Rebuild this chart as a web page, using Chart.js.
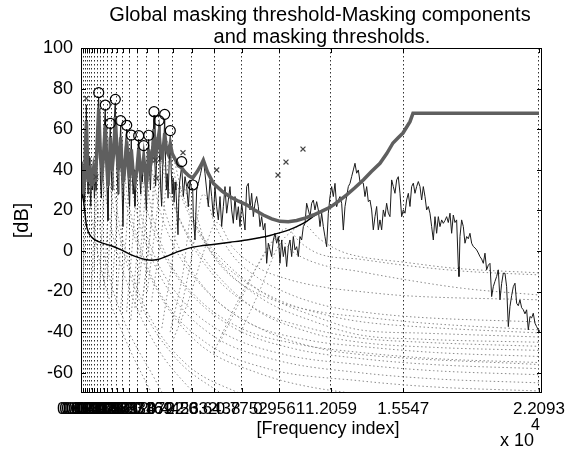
<!DOCTYPE html>
<html lang="en">
<head>
<meta charset="UTF-8">
<title>Global masking threshold</title>
<script src="https://cdn.jsdelivr.net/npm/chart.js@4.4.1/dist/chart.umd.min.js"></script>
<style>
  html, body { margin: 0; padding: 0; background: #fff; }
  #chart { display: block; }
</style>
</head>
<body>
<canvas id="chart" width="574" height="450"></canvas>
<script>
// critical band edges (frequency index), used as x ticks and grid
const bandEdges = [0, 101, 201, 302, 402, 513, 634, 775, 926, 1086, 1278, 1489, 1730, 2012, 2334,
  2716, 3169, 3722, 4426, 5332, 6438, 7752, 9561, 12059, 15547, 22093];
const yTicks = [-60, -40, -20, 0, 20, 40, 60, 80, 100];

const titleLines = ['Global masking threshold-Masking components', 'and masking thresholds.'];
const xLabel = '[Frequency index]';
const yLabel = '[dB]';

// power spectrum
const specFreq = [0, 43, 86, 129, 172, 215, 258, 301, 344, 387, 430, 473, 516, 560, 603, 646, 689, 732, 775, 818,
  854, 897, 940, 983, 1026, 1080, 1130, 1172, 1215, 1258, 1302, 1345, 1388, 1413, 1456, 1500, 1543, 1590, 1630, 1655,
  1700, 1740, 1785, 1830, 1870, 1915, 1960, 2026, 2070, 2120, 2170, 2205, 2250, 2300, 2345, 2390, 2427, 2470, 2520, 2560,
  2600, 2650, 2700, 2745, 2783, 2830, 2880, 2920, 2960, 3000, 3025, 3070, 3110, 3151, 3190, 3230, 3266, 3310, 3350, 3390,
  3430, 3475, 3522, 3565, 3600, 3640, 3680, 3720, 3763, 3805, 3850, 3890, 3930, 3980, 4038, 4080, 4120, 4160, 4200, 4250,
  4308, 4350, 4400, 4445, 4490, 4535, 4580, 4625, 4679, 4720, 4760, 4857, 4937, 5017, 5098, 5178, 5258, 5339, 5388, 5419,
  5500, 5580, 5660, 5773, 5902, 5982, 6062, 6143, 6223, 6304, 6384, 6464, 6545, 6625, 6706, 6786, 6866, 6947, 7027, 7108,
  7188, 7268, 7349, 7429, 7510, 7590, 7670, 7751, 7831, 7912, 7992, 8072, 8153, 8233, 8314, 8394, 8474, 8555, 8635, 8716,
  8796, 8876, 8957, 9037, 9118, 9198, 9278, 9359, 9439, 9520, 9600, 9680, 9761, 9841, 9922, 10002, 10082, 10163, 10243, 10324,
  10404, 10484, 10565, 10645, 10726, 10806, 10886, 10967, 11047, 11128, 11208, 11288, 11369, 11449, 11530, 11610, 11690, 11770, 11851, 11932,
  12012, 12092, 12173, 12253, 12334, 12414, 12494, 12575, 12655, 12736, 12816, 12896, 12977, 13057, 13138, 13218, 13298, 13379, 13459, 13620,
  13700, 13781, 13861, 13941, 14022, 14102, 14183, 14263, 14343, 14424, 14504, 14585, 14665, 14745, 14826, 14906, 14987, 15067, 15147, 15228,
  15308, 15389, 15469, 15549, 15630, 15710, 15791, 15871, 15951, 16032, 16112, 16193, 16273, 16353, 16434, 16514, 16595, 16675, 16755, 16836,
  16916, 16997, 17077, 17157, 17238, 17318, 17399, 17479, 17560, 17640, 17720, 17801, 17881, 17961, 18042, 18122, 18203, 18235, 18283, 18363,
  18444, 18524, 18605, 18685, 18765, 18846, 18926, 19006, 19087, 19167, 19248, 19328, 19409, 19489, 19569, 19650, 19730, 19811, 19891, 19971,
  20052, 20132, 20213, 20293, 20373, 20454, 20534, 20615, 20695, 20776, 20856, 20936, 21017, 21097, 21177, 21258, 21338, 21418, 21499, 21579,
  21660, 21740, 21820, 21901, 21981, 22062, 22093];
const specLevel = [32, 44, 26, 38, 24, 45, 72, 38, 28, 46, 34, 22, 40, 30, 42, 26, 36, 30, 56, 70,
  76, 52, 34, 26, 44, 50, 62, 70, 48, 30, 15, 40, 55, 61, 40, 30, 46, 58, 70, 73,
  54, 40, 28, 44, 52, 62, 40, 12, 36, 48, 56, 60, 42, 30, 22, 44, 55, 38, 28, 40,
  22, 34, 42, 50, 55, 38, 28, 40, 34, 44, 50, 36, 30, 20, 34, 46, 55, 40, 30, 42,
  48, 56, 67, 44, 32, 42, 50, 56, 62, 44, 30, 22, 38, 50, 65, 44, 30, 38, 26, 42,
  57, 40, 28, 36, 24, 34, 30, 20, 8, 26, 34, 42, 26.8, 36.6, 31.7, 21.8, 35, 30, 31, 17,
  5.4, 30, 33.3, 38.3, 44.8, 38.3, 30, 21.8, 35, 26.8, 16.9, 31.7, 21.8, 15.3, 26.8, 12, 21.8, 31.7, 18.6, 25.1,
  31.7, 20.2, 13.6, 26.8, 15.3, 21.8, 12, 23.5, 16.9, 10.3, 31.7, 33.3, 20.2, 28.4, 16.9, 23.5, 26.8, 21.8, 12, 16.9,
  10.3, 13.6, -6.1, 3.8, 0.5, -2.8, 5.4, 8.7, 3.8, 7.1, -6.1, 5.4, -2.8, 2.1, -7.7, 2.1, 5.4, -2.8, 7.1, 0.5,
  2.1, -2.8, 7.1, 5.4, 12, 13.6, 23.5, 20.2, 16.9, 23.5, 25.1, 20.2, 24.3, 20.2, 12, 18.6, 12, 7, 2.1, 18.6,
  26.8, 31.7, 26.8, 33.3, 21.8, 25.1, 26.8, 23.5, 10.3, 21.8, 26.8, 31.7, 33.3, 36.6, 39.9, 43.2, 38.3, 39.9, 34.2, 33.4,
  26.8, 31.7, 24.3, 25.1, 20.2, 10.4, 16.9, 21.9, 10.4, 15.3, 10.4, 20.2, 16.9, 23.5, 18.6, 16.9, 35, 31.7, 28.4, 35,
  36.6, 28.4, 16.9, 20.2, 18.6, 25.1, 28.4, 21.9, 31.7, 33.4, 28.4, 31.7, 34.2, 31.7, 25.1, 31.7, 26.8, 20.2, 21.9, 18.6,
  12, 5.4, 16.9, 8.7, 16.9, 12, 15.3, 13.6, 15, 16.9, 14, 18.6, 8.7, 17.7, 14, 15.3, -7.7, -12.6, 7.1, 15.3,
  12, 3.8, 7.1, 6, 8.7, 3.8, 2.2, 1.5, 0.5, -1, -2.8, -4, -6.1, -1.1, -9.3, -7, -6.1, -22.5, -17.6, -15,
  -12.6, -9.3, -24.1, -16, -11, -11, -17.6, -37.3, -27.4, -22, -17.6, -15.9, -25.8, -27, -24.1, -28, -29, -31, -29, -38.9,
  -32.3, -33, -30.7, -35.6, -37.3, -38.9, -40];

// global masking threshold
const threshFreq = [0, 43, 86, 172, 258, 344, 430, 516, 603, 689, 775, 854, 940, 1026, 1080, 1172, 1258, 1302, 1388, 1413,
  1500, 1590, 1655, 1740, 1800, 1870, 1915, 1990, 2050, 2120, 2205, 2300, 2345, 2427, 2520, 2600, 2700, 2783, 2880, 2960,
  3025, 3110, 3151, 3230, 3266, 3350, 3430, 3522, 3600, 3680, 3763, 3850, 3930, 4038, 4120, 4200, 4308, 4400, 4500, 4600,
  4700, 4857, 5000, 5200, 5388, 5600, 5773, 5902, 6100, 6382, 6800, 7188, 7600, 7993, 8400, 8794, 9200, 9600, 10000, 10405,
  10800, 11206, 11600, 12012, 12400, 12817, 13200, 13618, 14000, 14424, 14750, 15051, 15300, 15533, 15871, 16016, 22093];
const threshLevel = [30, 42, 28, 36, 64, 34, 42, 32, 40, 34, 52, 70, 46, 40, 46, 62, 40, 32, 46, 56,
  40, 50, 66, 48, 40, 46, 56, 40, 34, 42, 54, 40, 36, 50, 38, 34, 40, 50, 38, 40,
  46, 38, 34, 42, 50, 42, 46, 60, 48, 52, 58, 48, 46, 58, 50, 48, 53, 48, 46, 44,
  42, 41, 39, 37, 36, 39, 42, 44.8, 39, 33.3, 29.5, 26.7, 24.5, 22.7, 20, 17.7, 15.8, 14.6, 14.4, 15,
  16.2, 17.7, 19.5, 21.5, 24.3, 27.6, 31, 35, 39, 43.2, 48, 53.2, 55.8, 58.1, 63.7, 67.8, 67.8];

// absolute threshold of hearing
const athFreq = [43, 86, 130, 178, 256, 350, 497, 700, 1000, 1400, 1944, 2400, 2750, 3100, 3391, 3700, 4038, 4400, 4679,
  5162, 5700, 6368, 7200, 7993, 8600, 9118, 9600, 10000, 10405, 10888, 11206, 11600, 12012, 12400, 12817, 13200, 13618, 14000, 14424,
  14750, 15051, 15300, 15533, 15871, 16016, 22093];
const athLevel = [30, 27, 24, 20, 13, 9.5, 7, 5.3, 4, 2.8, 0.5, -1.8, -3.2, -4.2, -4.6, -4.2, -3, -1.5, -0.3,
  1.3, 2.4, 3.2, 4.3, 5.4, 6.5, 7.6, 9, 10.3, 12, 14.6, 17, 19.5, 21.5, 24.3, 27.6, 31, 35, 39, 43.2,
  48, 53.2, 55.8, 58.1, 63.7, 67.8, 67.8];

// tonal (o) and non-tonal (x) maskers
const tonalFreq = [854, 1172, 1413, 1655, 1915, 2205, 2427, 2783, 3025, 3266, 3522, 3763, 4038, 4308, 4857, 5388];
const tonalLevel = [78, 71.9, 62.9, 74.7, 64.2, 61.9, 57.1, 56.8, 51.9, 57, 68.6, 64.2, 67.3, 59.3, 44, 32.5];
const noiseFreq = [256, 724, 3584, 3632, 4920, 6546, 9503, 9889, 10709];
const noiseLevel = [75.2, 36.5, 44.8, 35.8, 48.4, 39.9, 37.4, 43.8, 50.2];

// individual masking thresholds, one [index, dB] list per masker
const maskCurves = [
  [[7700, -40], [8600, -20], [9500, 2], [10200, 10], [10709, 13], [11500, 6], [12500, 0], [13459, -2.8], [15547, -5.5], [18000, -8.5], [22093, -10.8]],
  [[6700, -45], [7800, -22], [8900, 0], [9500, 8], [9889, 11], [10600, 4], [11500, -1.5], [13459, -4.1], [15547, -7], [18500, -10], [22093, -11.8]],
  [[6400, -50], [7500, -26], [8600, -6], [9503, 6], [10300, -1], [11500, -6.5], [13459, -10.2], [15547, -14], [18500, -18.5], [22093, -21.7]],
  [[4400, -45], [5200, -24], [6000, 2], [6546, 14], [7300, 2], [8500, -8], [10000, -14], [11800, -18], [13459, -20], [15547, -22], [22093, -24.1]],
  [[4700, -35], [5300, -5], [5902, 28], [6500, 12], [7300, -2], [8500, -13], [10000, -21], [11800, -27], [13459, -29.9], [16000, -32.5], [22093, -35]],
  [[4300, -40], [4900, -12], [5388, 20], [6000, 4], [6800, -8], [8000, -18], [9800, -26], [11800, -30.5], [13459, -32.4], [16500, -35.5], [22093, -38.9]],
  [[3900, -38], [4400, -5], [4872, 32], [5500, 14], [6300, 0], [7500, -12], [9500, -24], [11800, -31.5], [13459, -34.8], [16500, -37.5], [22093, -40.4]],
  [[3400, -25], [3900, 10], [4308, 48], [4900, 28], [5700, 10], [7000, -6], [9000, -22], [11500, -33], [13459, -38.9], [16500, -40.5], [22093, -42.4]],
  [[3200, -20], [3650, 18], [4038, 56], [4600, 34], [5400, 14], [6700, -6], [8800, -24], [11300, -35], [13459, -41.4], [16500, -43.5], [22093, -45]],
  [[3000, -22], [3400, 14], [3763, 50], [4300, 28], [5100, 8], [6400, -12], [8500, -29], [11000, -38], [13459, -42.9], [16500, -45], [22093, -47]],
  [[2800, -16], [3180, 20], [3522, 58], [4050, 36], [4800, 15], [6100, -6], [8300, -28], [11000, -40], [13459, -45], [17000, -47.5], [22093, -49]],
  [[2600, -28], [2950, 8], [3266, 44], [3750, 22], [4500, 2], [5800, -17], [8000, -35], [11000, -44], [13459, -47], [17000, -50], [22093, -52]],
  [[2400, -34], [2730, 2], [3025, 38], [3480, 16], [4200, -4], [5500, -22], [7700, -38], [10500, -46], [13459, -50], [17000, -53], [22093, -55]],
  [[2200, -30], [2500, 6], [2783, 43], [3200, 20], [3900, 0], [5200, -20], [7400, -38], [10200, -48], [13459, -53], [17000, -56], [22093, -58]],
  [[1900, -30], [2170, 6], [2427, 44], [2800, 22], [3450, 0], [4700, -22], [6800, -40], [9800, -51], [13459, -56], [17000, -59], [22093, -61]],
  [[1720, -25], [1960, 10], [2205, 48], [2560, 25], [3200, 2], [4400, -22], [6400, -42], [9500, -54], [13459, -60], [17000, -63], [22093, -65]],
  [[1480, -22], [1700, 12], [1915, 50], [2250, 26], [2850, 2], [4000, -24], [6000, -45], [9000, -58], [13459, -64], [17000, -67], [22093, -69]],
  [[1270, -14], [1480, 22], [1655, 60], [1950, 36], [2500, 10], [3600, -18], [5500, -44], [8500, -60], [13000, -70], [22093, -74]],
  [[1080, -25], [1260, 10], [1413, 48], [1680, 24], [2200, -2], [3200, -30], [5000, -55], [8000, -72]],
  [[900, -18], [1040, 18], [1172, 56], [1410, 32], [1900, 6], [2800, -24], [4500, -52], [7000, -72]],
  [[630, -10], [740, 26], [854, 62], [1050, 38], [1450, 12], [2300, -18], [3700, -48], [5600, -72]],
  [[100, -20], [180, 15], [256, 45], [380, 28], [650, 8], [1200, -18], [2200, -45], [3500, -72]],
  [[500, -20], [610, 5], [724, 32], [900, 12], [1300, -10], [2100, -35], [3500, -62], [4200, -75]],
  [[2900, -30], [3300, 5], [3584, 38], [4100, 18], [4900, -2], [6300, -22], [8600, -38], [11500, -48], [13459, -51], [22093, -56]]
];

const pts = (xs, ys) => xs.map((x, i) => ({ x, y: ys[i] }));
const fmtIndex = v => String(Number((v / 1e4).toFixed(4)));
const fontFamily = '"Liberation Sans", Arial, sans-serif';

// box, inward tick marks and the text around the axes
const frame = {
  id: 'frame',
  afterDraw(chart) {
    const { ctx, chartArea: a, scales: { x, y } } = chart;
    ctx.save();
    ctx.strokeStyle = '#000';
    ctx.lineWidth = 1;
    ctx.strokeRect(a.left + 0.5, a.top + 0.5, a.width - 1, a.height - 1);
    ctx.beginPath();
    bandEdges.forEach(v => {
      const px = Math.round(x.getPixelForValue(v)) + 0.5;
      ctx.moveTo(px, a.bottom); ctx.lineTo(px, a.bottom - 5);
      ctx.moveTo(px, a.top); ctx.lineTo(px, a.top + 5);
    });
    yTicks.forEach(v => {
      const py = Math.round(y.getPixelForValue(v)) + 0.5;
      ctx.moveTo(a.left, py); ctx.lineTo(a.left + 5, py);
      ctx.moveTo(a.right, py); ctx.lineTo(a.right - 5, py);
    });
    ctx.stroke();

    ctx.fillStyle = '#000';
    ctx.textAlign = 'center';
    ctx.textBaseline = 'middle';
    ctx.font = '20px ' + fontFamily;
    ctx.fillText(titleLines[0], 320, 15);
    ctx.fillText(titleLines[1], 322, 37);
    ctx.font = '18px ' + fontFamily;
    ctx.fillText(xLabel, 328, 429);
    ctx.textAlign = 'left';
    ctx.fillText('x 10', 500, 441);
    ctx.font = '16px ' + fontFamily;
    ctx.fillText('4', 531, 426);
    ctx.font = '20px ' + fontFamily;
    ctx.translate(22, (a.top + a.bottom) / 2);
    ctx.rotate(-Math.PI / 2);
    ctx.textAlign = 'center';
    ctx.fillText(yLabel, 0, 0);
    ctx.restore();
  }
};

const datasets = [
  { data: pts(tonalFreq, tonalLevel), showLine: false, pointStyle: 'circle', pointRadius: 5,
    borderColor: '#000', backgroundColor: 'rgba(0,0,0,0)', borderWidth: 1.2 },
  { data: pts(noiseFreq, noiseLevel), showLine: false, pointStyle: 'crossRot', pointRadius: 3.5,
    borderColor: '#444', borderWidth: 1.2 },
  { data: pts(threshFreq, threshLevel), showLine: true, pointRadius: 0, borderColor: '#5f5f5f', borderWidth: 3.5 },
  { data: pts(athFreq, athLevel), showLine: true, pointRadius: 0, borderColor: '#000', borderWidth: 1.4,
    cubicInterpolationMode: 'monotone' },
  { data: pts(specFreq, specLevel), showLine: true, pointRadius: 0, borderColor: '#1b1b1b', borderWidth: 1 }
];
maskCurves.forEach(c => datasets.push({
  data: c.map(([x, y]) => ({ x, y })), showLine: true, pointRadius: 0,
  borderColor: '#8a8a8a', borderWidth: 1, borderDash: [1.5, 2.5], cubicInterpolationMode: 'monotone'
}));

Chart.defaults.font.family = fontFamily;
Chart.defaults.font.size = 17;
Chart.defaults.color = '#000';

new Chart(document.getElementById('chart'), {
  type: 'scatter',
  data: { datasets },
  options: {
    responsive: false,
    animation: false,
    devicePixelRatio: 1,
    layout: { padding: { left: 0, right: 32, top: 48, bottom: 0 } },
    plugins: { legend: { display: false }, tooltip: { enabled: false } },
    scales: {
      x: {
        type: 'linear', min: 0, max: 22240,
        afterBuildTicks: s => { s.ticks = bandEdges.map(v => ({ value: v })); },
        afterFit: s => { s.height = 57; },
        ticks: { autoSkip: false, maxRotation: 0, minRotation: 0, padding: 6, callback: v => fmtIndex(v) },
        grid: { color: '#333', lineWidth: 1, drawTicks: false },
        border: { display: false, dash: [1.5, 2.5] }
      },
      y: {
        min: -70, max: 100,
        afterBuildTicks: s => { s.ticks = yTicks.map(v => ({ value: v })); },
        afterFit: s => { s.width = 81; },
        ticks: { padding: 8, font: { size: 18 } },
        grid: { display: false, tickLength: 0 },
        border: { display: false }
      }
    }
  },
  plugins: [frame]
});
</script>
</body>
</html>
